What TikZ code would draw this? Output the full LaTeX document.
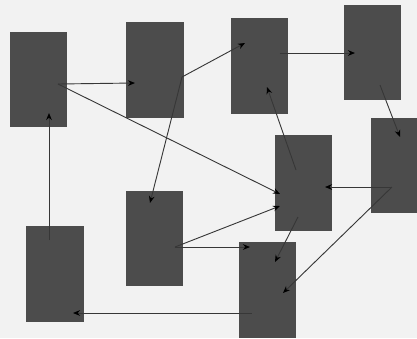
\documentclass[tikz,border=0pt]{standalone}
\usetikzlibrary{arrows.meta}
\definecolor{boxgrey}{RGB}{76,76,76}
\definecolor{linegrey}{RGB}{55,55,55}
\definecolor{paper}{RGB}{242,242,242}
\begin{document}
\begin{tikzpicture}[x=0.025cm,y=-0.025cm,
  blk/.style={fill=boxgrey,inner sep=0pt,minimum width=1.425cm,minimum height=2.375cm},
  lnk/.style={draw=linegrey,line width=0.65pt,-{Stealth[length=5pt,width=4pt,color=black]}}]
% paper
\fill[paper] (0,0) rectangle (417,338);
% blocks
\node[blk] (A) at (38.5,79.5) {};
\node[blk] (B) at (155,70) {};
\node[blk] (C) at (259.5,66) {};
\node[blk] (D) at (372.5,52.5) {};
\node[blk,minimum width=1.15cm] (E) at (394,165.5) {};
\node[blk] (F) at (303.5,183) {};
\node[blk] (G) at (267.5,290) {};
\node[blk] (H) at (55,274) {};
\node[blk] (I) at (154.5,238.5) {};
% link ends
\coordinate (a1) at (58,84);   \coordinate (a2) at (49,113);
\coordinate (b1) at (135,83);  \coordinate (b2) at (182,77);
\coordinate (c1) at (245,43);  \coordinate (c2) at (280,53);  \coordinate (c3) at (267,87);
\coordinate (d1) at (355,53);  \coordinate (d2) at (380,85);
\coordinate (e1) at (400,137); \coordinate (e2) at (392,187);
\coordinate (f1) at (280,194); \coordinate (f2) at (280,206); \coordinate (f3) at (325,187);
\coordinate (f4) at (296,170); \coordinate (f5) at (298,217);
\coordinate (g1) at (275,262); \coordinate (g2) at (250,247); \coordinate (g3) at (283,293);
\coordinate (g4) at (252,313);
\coordinate (h1) at (49,240);  \coordinate (h2) at (73,313);
\coordinate (i1) at (150,203); \coordinate (i2) at (175,247);
% links
\draw[lnk] (a1) -- (b1);
\draw[lnk] (a1) -- (f1);
\draw[lnk] (h1) -- (a2);
\draw[lnk] (b2) -- (c1);
\draw[lnk] (b2) -- (i1);
\draw[lnk] (c2) -- (d1);
\draw[lnk] (d2) -- (e1);
\draw[lnk] (f4) -- (c3);
\draw[lnk] (f5) -- (g1);
\draw[lnk] (e2) -- (f3);
\draw[lnk] (e2) -- (g3);
\draw[lnk] (i2) -- (f2);
\draw[lnk] (i2) -- (g2);
\draw[lnk] (g4) -- (h2);
\end{tikzpicture}
\end{document}
